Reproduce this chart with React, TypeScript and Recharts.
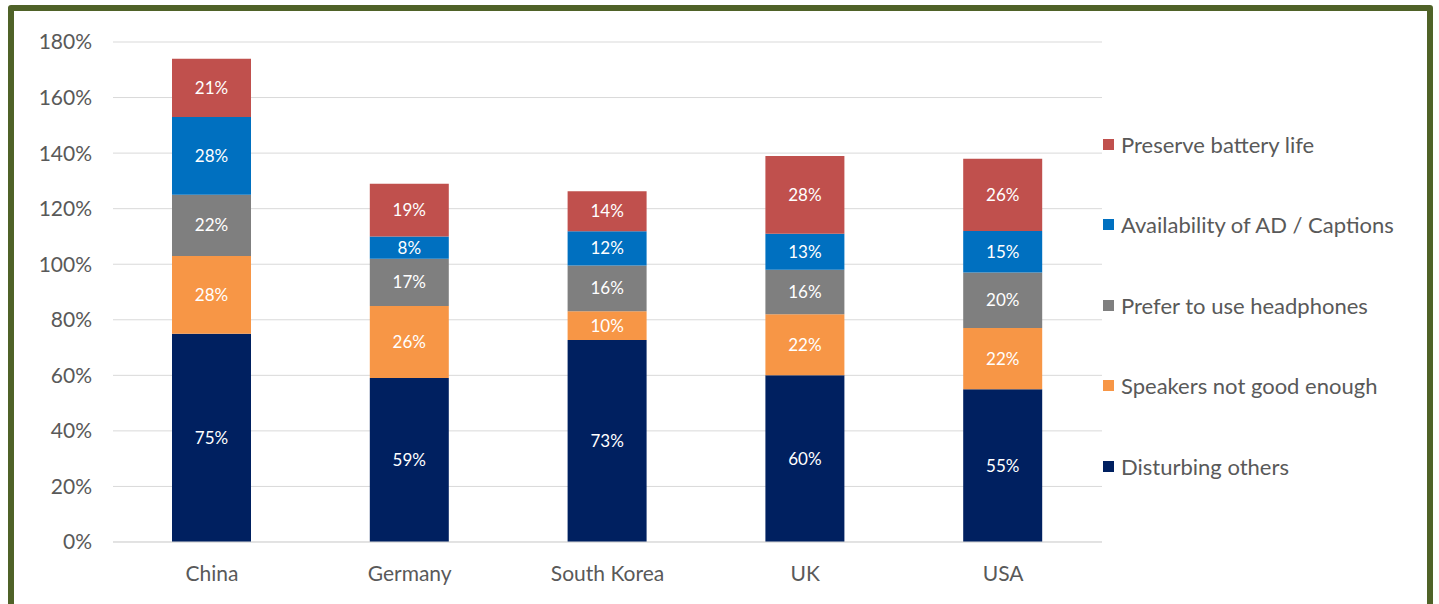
import React from "react";
import { BarChart, Bar, XAxis, YAxis, CartesianGrid, LabelList, Legend } from "recharts";

const countries = ["China", "Germany", "South Korea", "UK", "USA"];
const disturbingOthers = [75, 59, 72.7, 60, 55];
const speakersNotGood = [28, 26, 10.4, 22, 22];
const preferHeadphones = [22, 17, 16.4, 16, 20];
const availabilityAD = [28, 8, 12.4, 13, 15];
const preserveBattery = [21, 19, 14.4, 28, 26];
const yTicks = [0, 20, 40, 60, 80, 100, 120, 140, 160, 180];

const seriesNames = [
  "Disturbing others",
  "Speakers not good enough",
  "Prefer to use headphones",
  "Availability of AD / Captions",
  "Preserve battery life",
];
const seriesKeys = ["s0", "s1", "s2", "s3", "s4"];
const seriesColors = ["#002060", "#F79646", "#7F7F7F", "#0070C0", "#C0504D"];
const seriesValues = [disturbingOthers, speakersNotGood, preferHeadphones, availabilityAD, preserveBattery];

const data = countries.map((c, i) => {
  const row: Record<string, string | number> = { country: c };
  seriesKeys.forEach((k, j) => {
    row[k] = seriesValues[j][i];
  });
  return row;
});

const FONT = "Lato, 'Open Sans', sans-serif";
const TEXT = "#595959";

const LegendContent = () => {
  const order = [4, 3, 2, 1, 0];
  return (
    <div style={{ fontFamily: FONT }}>
      {order.map((j) => (
        <div
          key={j}
          style={{ height: 80.5, display: "flex", alignItems: "center" }}
        >
          <div style={{ width: 11, height: 11, background: seriesColors[j], marginRight: 7 }} />
          <span style={{ fontSize: 22, color: TEXT, whiteSpace: "nowrap" }}>{seriesNames[j]}</span>
        </div>
      ))}
    </div>
  );
};

export default function App() {
  return (
    <div style={{ position: "absolute", left: 0, top: 0, width: 1439, height: 604, background: "#fff", overflow: "hidden" }}>
      <div
        style={{
          position: "absolute",
          left: 8,
          top: 5,
          width: 1413,
          height: 640,
          border: "6px solid #4F6228",
          borderRadius: 3,
        }}
      />
      <div style={{ position: "absolute", left: 0, top: 0 }}>
        <BarChart
          width={1439}
          height={604}
          data={data}
          margin={{ top: 42, right: 337, bottom: 0, left: 0 }}
          barSize={79}
        >
          <CartesianGrid vertical={false} stroke="#D9D9D9" strokeWidth={1} />
          <XAxis
            dataKey="country"
            axisLine={{ stroke: "#D9D9D9" }}
            tickLine={false}
            tickSize={0}
            tickMargin={24}
            tick={{ fill: TEXT, fontSize: 21, fontFamily: FONT }}
            height={62}
          />
          <YAxis
            width={113}
            domain={[0, 180]}
            ticks={yTicks}
            axisLine={false}
            tickLine={false}
            tickSize={0}
            tickMargin={21}
            tickFormatter={(v: number) => `${v}%`}
            tick={{ fill: TEXT, fontSize: 21, fontFamily: FONT }}
          />
          <Legend
            layout="vertical"
            align="center"
            verticalAlign="middle"
            content={<LegendContent />}
            wrapperStyle={{ left: 1103, top: 104, width: 330, height: 403 }}
          />
          {seriesKeys.map((k, j) => (
            <Bar
              key={k}
              dataKey={k}
              name={seriesNames[j]}
              stackId="a"
              fill={seriesColors[j]}
              isAnimationActive={false}
            >
              <LabelList
                dataKey={k}
                position="center"
                fill="#FFFFFF"
                fontSize={17}
                fontFamily={FONT}
                formatter={(v: number) => `${Math.round(v)}%`}
              />
            </Bar>
          ))}
        </BarChart>
      </div>
    </div>
  );
}
